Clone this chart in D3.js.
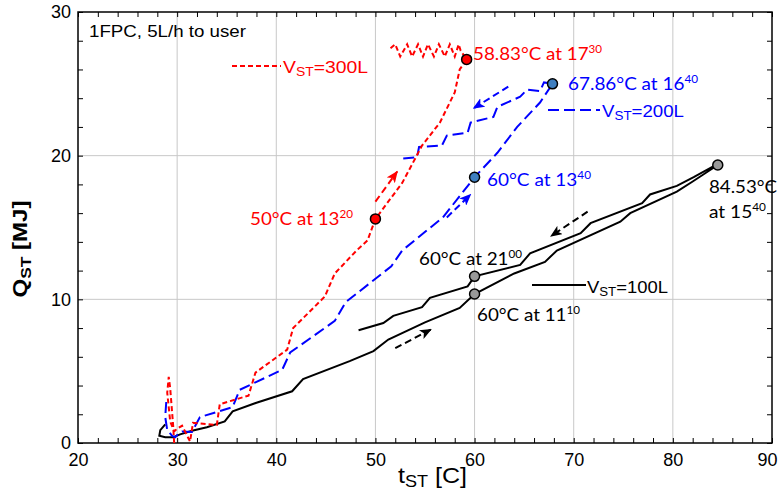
<!DOCTYPE html>
<html><head><meta charset="utf-8">
<script src="https://cdn.jsdelivr.net/npm/d3@7"></script>
<style>body{margin:0;background:#fff}</style>
</head><body><svg id="c" width="781" height="501"></svg>
<script>
// ---- data ----
const xTicks = [20,30,40,50,60,70,80,90];
const yTicks = [0,10,20,30];
const series300 = [[29.7,0],[29.6,1.2],[29.3,3.8],[29.15,4.6],[29.0,3.5],[29.3,1.5],[29.7,0.8],[30.0,1.0],[30.5,1.2],[31.3,0.1],[31.6,1.4],[34.0,1.25],[34.3,2.7],[37.2,3.3],[37.9,4.9],[41.1,6.5],[41.7,8.0],[44.9,10.2],[45.9,11.8],[48.1,13.4],[49.2,14.1],[50.0,15.6],[52.7,18.1],[54.7,20.7],[56.5,22.3],[58.0,24.4],[58.5,26.0],[59.2,26.7],[58.6,27.3],[58.4,27.75],[58.0,26.9],[57.5,27.75],[57.0,26.9],[56.4,27.75],[55.9,26.9],[55.3,27.75],[54.8,26.9],[54.3,27.75],[53.7,26.9],[53.2,27.75],[52.5,26.9],[52.0,27.75],[51.3,27.35]];
const series200 = [[28.9,2.85],[28.8,1.8],[29.0,0.9],[29.5,0.5],[29.8,0.4],[30.2,0.7],[30.5,0.8],[31.5,0.77],[32.3,1.8],[35.6,2.5],[36.3,3.7],[40.6,5.1],[41.4,6.3],[45.9,8.5],[47.0,9.8],[51.6,12.3],[52.7,13.4],[56.8,15.7],[60.0,18.5],[62.3,20.2],[64.3,22.0],[66.6,23.7],[67.86,25.0],[67.0,25.1],[66.6,24.5],[65.3,24.6],[64.6,24.1],[62.3,23.4],[61.9,22.7],[59.6,22.3],[59.3,21.6],[57.2,21.4],[56.7,20.7],[54.4,20.6],[54.2,19.9],[52.7,19.8]];
const series100 = [[28.8,1.3],[28.3,0.9],[28.2,0.5],[28.8,0.4],[29.6,0.4],[30.3,0.6],[31.5,0.85],[33.0,1.1],[34.8,1.5],[35.6,2.2],[38.0,2.8],[41.6,3.6],[42.7,4.45],[47.4,5.7],[49.8,6.4],[51.3,7.2],[55.0,8.4],[58.5,9.4],[60.0,10.37],[64.0,11.8],[67.1,12.6],[68.3,13.4],[74.7,15.4],[75.7,16.0],[80.4,17.5],[82.0,18.2],[84.53,19.35],[84.2,19.3],[82.1,18.5],[80.4,17.9],[77.7,17.3],[76.9,16.7],[71.7,15.3],[70.7,14.6],[65.6,13.2],[64.6,12.4],[60.0,11.6],[59.3,10.9],[55.5,10.1],[54.7,9.45],[51.8,8.85],[50.8,8.35],[48.3,7.85]];
const markers = [
  {x:50.0,y:15.6,fill:"#ff0000"},{x:59.2,y:26.7,fill:"#ff0000"},
  {x:60.0,y:18.5,fill:"#3f7fc0"},{x:67.86,y:25.0,fill:"#3f7fc0"},
  {x:84.53,y:19.35,fill:"#999999"},{x:60.0,y:11.6,fill:"#999999"},{x:60.0,y:10.37,fill:"#999999"}];
const arrows = [
  {from:[50.0,16.8],to:[52.2,18.9],color:"#ff0000"},
  {from:[57.2,15.7],to:[59.6,17.3],color:"#0000ff"},
  {from:[63.4,24.8],to:[59.9,23.3],color:"#0000ff"},
  {from:[52.0,6.6],to:[55.6,7.9],color:"#000000"},
  {from:[71.4,16.1],to:[67.7,14.4],color:"#000000"}];

// ---- chart ----
const svg = d3.select("#c");
const L=78,R=772,T=12,B=443;
const x = d3.scaleLinear().domain([20,90]).range([L,R]);
const y = d3.scaleLinear().domain([0,30]).range([B,T]);

// grid
svg.append("g").selectAll("line").data(xTicks.slice(1,-1)).join("line")
  .attr("x1",d=>x(d)).attr("x2",d=>x(d)).attr("y1",T).attr("y2",B)
  .attr("stroke","#c8c8c8").attr("stroke-width",1);
svg.append("g").selectAll("line").data(yTicks.slice(1,-1)).join("line")
  .attr("y1",d=>y(d)).attr("y2",d=>y(d)).attr("x1",L).attr("x2",R)
  .attr("stroke","#c8c8c8").attr("stroke-width",1);

// axes with inward ticks
const xMinor = d3.range(20,91,2), yMinor = d3.range(0,31,2);
function axisStyle(g){g.select(".domain").remove();g.selectAll(".tick line").attr("stroke","#000");}
svg.append("g").attr("transform",`translate(0,${B})`)
  .call(d3.axisBottom(x).tickValues(xMinor).tickSizeInner(-5).tickSizeOuter(0).tickFormat(""))
  .call(axisStyle);
svg.append("g").attr("transform",`translate(0,${T})`)
  .call(d3.axisTop(x).tickValues(xMinor).tickSizeInner(-5).tickSizeOuter(0).tickFormat(""))
  .call(axisStyle);
svg.append("g").attr("transform",`translate(${L},0)`)
  .call(d3.axisLeft(y).tickValues(yMinor).tickSizeInner(-5).tickSizeOuter(0).tickFormat(""))
  .call(axisStyle);
svg.append("g").attr("transform",`translate(${R},0)`)
  .call(d3.axisRight(y).tickValues(yMinor).tickSizeInner(-5).tickSizeOuter(0).tickFormat(""))
  .call(axisStyle);
// tick labels
const xl = svg.append("g").attr("transform",`translate(0,${B})`)
  .call(d3.axisBottom(x).tickValues(xTicks).tickSize(0).tickPadding(10).tickFormat(d3.format("d")));
xl.select(".domain").remove();
xl.selectAll("text").attr("font-family","Liberation Sans, Arial").attr("font-size",18).attr("fill","#000");
xl.selectAll("text").filter(d=>d===90).attr("dx",-5);
const yl = svg.append("g").attr("transform",`translate(${L},0)`)
  .call(d3.axisLeft(y).tickValues(yTicks).tickSize(0).tickPadding(7).tickFormat(d3.format("d")));
yl.select(".domain").remove();
yl.selectAll("text").attr("font-family","Liberation Sans, Arial").attr("font-size",18).attr("fill","#000");

// frame
svg.append("rect").attr("x",L).attr("y",T).attr("width",R-L).attr("height",B-T)
  .attr("fill","none").attr("stroke","#000").attr("stroke-width",1.5);

// arrow marker defs
const defs = svg.append("defs");
["#ff0000","#0000ff","#000000"].forEach((c,i)=>{
  defs.append("marker").attr("id","ah"+i).attr("viewBox","0 0 12 10").attr("refX",11).attr("refY",5)
    .attr("markerWidth",12).attr("markerHeight",10).attr("markerUnits","userSpaceOnUse").attr("orient","auto")
    .append("path").attr("d","M0,0 L12,5 L0,10 L3,5 Z").attr("fill",c);
});
const colIdx = {"#ff0000":0,"#0000ff":1,"#000000":2};

const line = d3.line().x(d=>x(d[0])).y(d=>y(d[1]));
svg.append("path").datum(series100).attr("d",line).attr("fill","none").attr("stroke","#000").attr("stroke-width",2);
svg.append("path").datum(series200).attr("d",line).attr("fill","none").attr("stroke","#0000ff").attr("stroke-width",2).attr("stroke-dasharray","11,5");
svg.append("path").datum(series300).attr("d",line).attr("fill","none").attr("stroke","#ff0000").attr("stroke-width",2).attr("stroke-dasharray","5,3");

svg.append("g").selectAll("line").data(arrows).join("line")
  .attr("x1",d=>x(d.from[0])).attr("y1",d=>y(d.from[1])).attr("x2",d=>x(d.to[0])).attr("y2",d=>y(d.to[1]))
  .attr("stroke",d=>d.color).attr("stroke-width",2).attr("stroke-dasharray","7,4")
  .attr("marker-end",d=>`url(#ah${colIdx[d.color]})`);

svg.append("g").selectAll("circle").data(markers).join("circle")
  .attr("cx",d=>x(d.x)).attr("cy",d=>y(d.y)).attr("r",5)
  .attr("fill",d=>d.fill).attr("stroke","#000").attr("stroke-width",1.5);

// legend samples
svg.append("line").attr("x1",232).attr("x2",281).attr("y1",66).attr("y2",66).attr("stroke","#ff0000").attr("stroke-width",2).attr("stroke-dasharray","5,3");
svg.append("line").attr("x1",548).attr("x2",600).attr("y1",110).attr("y2",110).attr("stroke","#0000ff").attr("stroke-width",2).attr("stroke-dasharray","11,5");
svg.append("line").attr("x1",532).attr("x2",586).attr("y1",285).attr("y2",285).attr("stroke","#000").attr("stroke-width",2);

// texts
function txt(xp,yp,parts,color,family,size,w,anchor){
  const t = svg.append("text").attr("x",xp).attr("y",yp).attr("fill",color)
    .attr("font-family",family).attr("font-size",size).attr("text-anchor",anchor||"start");
  parts.forEach(p=>{
    const s=t.append("tspan").text(p.t);
    if(p.sup){s.attr("font-size",size*0.62).attr("dy",-size*0.38);}
    if(p.sub){s.attr("font-size",size*0.72).attr("dy",size*0.2);}
    if(p.back){s.attr("dy",p.back);}
  });
  if(w){t.attr("textLength",w).attr("lengthAdjust","spacingAndGlyphs");}
  return t;
}
const cal="Lato, 'Open Sans', sans-serif", ar="'Liberation Sans', Arial, sans-serif";
txt(89,37,[{t:"1FPC, 5L/h to user"}],"#000",ar,16.5,157);
txt(283,73,[{t:"V"},{t:"ST",sub:1},{t:"=300L",back:-3.4}],"#ff0000",ar,17,85);
txt(473,60,[{t:"58.83°C at 17"},{t:"30",sup:1}],"#ff0000",cal,18,129);
txt(568,90,[{t:"67.86°C at 16"},{t:"40",sup:1}],"#0000ff",cal,18,130);
txt(602,117,[{t:"V"},{t:"ST",sub:1},{t:"=200L",back:-3.4}],"#0000ff",ar,17,82);
txt(487,186,[{t:"60°C at 13"},{t:"40",sup:1}],"#0000ff",cal,18,104);
txt(250,225,[{t:"50°C at 13"},{t:"20",sup:1}],"#ff0000",cal,18,103);
txt(709,193,[{t:"84.53°C"}],"#000",cal,18,68);
txt(709,218,[{t:"at 15"},{t:"40",sup:1}],"#000",cal,18,57);
txt(419,265,[{t:"60°C at 21"},{t:"00",sup:1}],"#000",cal,18,103);
txt(587,293,[{t:"V"},{t:"ST",sub:1},{t:"=100L",back:-3.4}],"#000",ar,17,81);
txt(477,321,[{t:"60°C at 11"},{t:"10",sup:1}],"#000",cal,18,103);

// axis titles
txt(398,483,[{t:"t"},{t:"ST",sub:1},{t:" [C]",back:-4.4}],"#000",ar,22,69);
const yt = txt(0,0,[{t:"Q"},{t:"ST",sub:1},{t:" [MJ]",back:-4.4}],"#000",ar,21,97,"middle");
yt.attr("font-weight","bold").attr("transform","translate(27,249) rotate(-90)");
</script></body></html>
